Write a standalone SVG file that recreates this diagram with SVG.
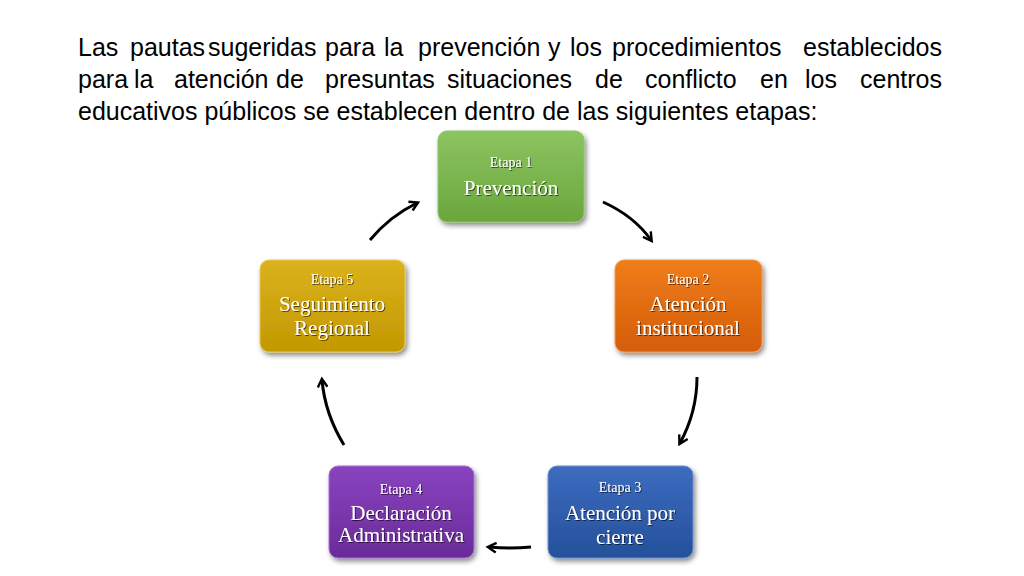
<svg xmlns="http://www.w3.org/2000/svg" width="1024" height="576" viewBox="0 0 1024 576">
<style>
.t{font-family:"Liberation Sans",Arial,sans-serif;font-size:25px;fill:#000}
.s{font-family:"Liberation Serif","Times New Roman",serif;fill:#fff;text-anchor:middle;filter:url(#ts)}
.e{font-size:14px}.m{font-size:21px}
.b{stroke-width:1;filter:url(#sh)}
.c{fill:none;stroke:#000;stroke-width:3;marker-end:url(#ah)}
</style>
<defs>
<filter id="sh" x="-20%" y="-20%" width="140%" height="150%"><feDropShadow dx="2" dy="3" stdDeviation="2.5" flood-opacity="0.45"/></filter>
<filter id="ts"><feDropShadow dx="1" dy="1" stdDeviation="0.5" flood-opacity="0.6"/></filter>
<marker id="ah" viewBox="0 0 10 10" refX="7" refY="5" markerWidth="4" markerHeight="4" orient="auto"><path d="M1,1 L8,5 L1,9" fill="none" stroke="#000" stroke-width="2"/></marker>
<linearGradient id="g1" x1="0" y1="0" x2="0" y2="1"><stop offset="0" stop-color="#8cc461"/><stop offset="1" stop-color="#6aa63c"/></linearGradient>
<linearGradient id="g2" x1="0" y1="0" x2="0" y2="1"><stop offset="0" stop-color="#f07d1a"/><stop offset="1" stop-color="#d45c07"/></linearGradient>
<linearGradient id="g3" x1="0" y1="0" x2="0" y2="1"><stop offset="0" stop-color="#3d6cc0"/><stop offset="1" stop-color="#24509a"/></linearGradient>
<linearGradient id="g4" x1="0" y1="0" x2="0" y2="1"><stop offset="0" stop-color="#8a43bf"/><stop offset="1" stop-color="#6a2b9a"/></linearGradient>
<linearGradient id="g5" x1="0" y1="0" x2="0" y2="1"><stop offset="0" stop-color="#dcb21c"/><stop offset="1" stop-color="#c29800"/></linearGradient>
</defs>
<rect width="1024" height="576" fill="#fff"/>
<text class="t" y="56"><tspan x="78">Las</tspan><tspan x="130">pautas</tspan><tspan x="208">sugeridas</tspan><tspan x="325">para</tspan><tspan x="384">la</tspan><tspan x="418">prevención</tspan><tspan x="548">y</tspan><tspan x="570">los</tspan><tspan x="612">procedimientos</tspan><tspan x="942" text-anchor="end">establecidos</tspan></text>
<text class="t" y="88"><tspan x="78">para</tspan><tspan x="134">la</tspan><tspan x="174">atención</tspan><tspan x="276">de</tspan><tspan x="325">presuntas</tspan><tspan x="447">situaciones</tspan><tspan x="595">de</tspan><tspan x="645">conflicto</tspan><tspan x="760">en</tspan><tspan x="805">los</tspan><tspan x="942" text-anchor="end">centros</tspan></text>
<text class="t" x="78" y="120">educativos públicos se establecen dentro de las siguientes etapas:</text>
<g id="connectors">
<path class="c" d="M603,202 Q634,216 651,240"/>
<path class="c" d="M697,377 Q697,412 680,443"/>
<path class="c" d="M531,547 Q510,549 489,547"/>
<path class="c" d="M344,445 Q325,414 322,380"/>
<path class="c" d="M370,240 Q390,216 417,203"/>
</g>
<g id="n1"><rect class="b" x="438" y="131" width="146" height="91" rx="9" fill="url(#g1)" stroke="#8fc46a"/><text class="s e" x="511" y="167">Etapa 1</text><text class="s m" x="511" y="195">Prevención</text></g>
<g id="n2"><rect class="b" x="615" y="260" width="147" height="92" rx="9" fill="url(#g2)" stroke="#f29a4a"/><text class="s e" x="688" y="284">Etapa 2</text><text class="s m" x="688" y="311">Atención</text><text class="s m" x="688" y="335">institucional</text></g>
<g id="n3"><rect class="b" x="548" y="466" width="145" height="92" rx="9" fill="url(#g3)" stroke="#6b8fd0"/><text class="s e" x="620" y="492">Etapa 3</text><text class="s m" x="620" y="520">Atención por</text><text class="s m" x="620" y="544">cierre</text></g>
<g id="n4"><rect class="b" x="329" y="466" width="145" height="92" rx="9" fill="url(#g4)" stroke="#a475cf"/><text class="s e" x="401" y="494">Etapa 4</text><text class="s m" x="401" y="520">Declaración</text><text class="s m" x="401" y="542">Administrativa</text></g>
<g id="n5"><rect class="b" x="260" y="260" width="145" height="92" rx="9" fill="url(#g5)" stroke="#e5c65a"/><text class="s e" x="332" y="284">Etapa 5</text><text class="s m" x="332" y="311">Seguimiento</text><text class="s m" x="332" y="335">Regional</text></g>
</svg>
